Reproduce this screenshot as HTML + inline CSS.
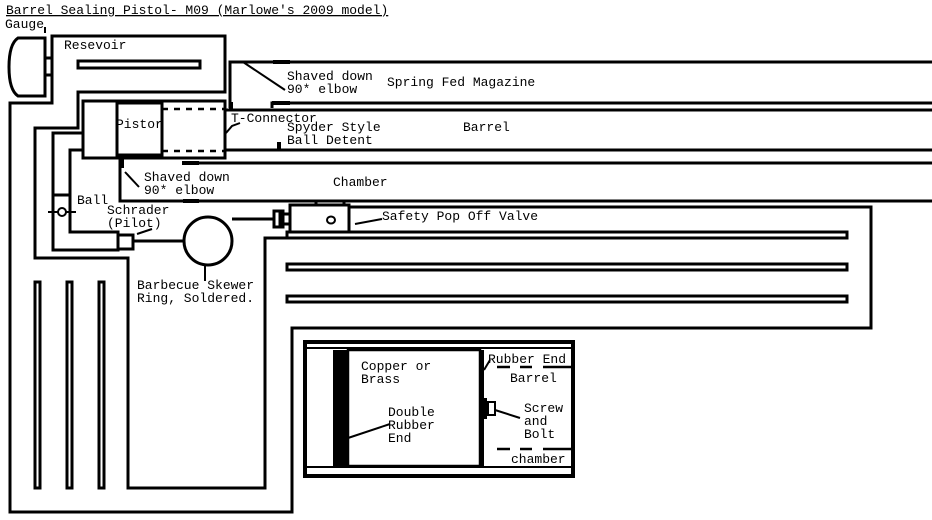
<!DOCTYPE html>
<html><head><meta charset="utf-8"><style>
html,body{margin:0;padding:0;background:#fff;}
svg{display:block;}
text{font-family:"Liberation Mono",monospace;font-size:13px;fill:#000;}
</style></head><body>
<svg width="932" height="520" viewBox="0 0 932 520" xmlns="http://www.w3.org/2000/svg">
<g fill="none" stroke="#000" stroke-width="3">
<path d="M18,38 L45,38 L45,96 L18,96 Q9,90 9,67 Q9,44 18,38 Z"/>
<rect x="45" y="58" width="7" height="17"/>
<path d="M45,27 L45,33" stroke-width="2"/>
<polyline points="350,207 871,207 871,328 292,328 292,512 10,512 10,103 52,103 52,36 225,36 225,92 78,92 78,128 35,128 35,258 128,258 128,488 265,488 265,238 287,238"/>
<rect x="78" y="61" width="122" height="7"/>
<rect x="35" y="282" width="5" height="206"/>
<rect x="67" y="282" width="5" height="206"/>
<rect x="99" y="282" width="5" height="206"/>
<rect x="287" y="232" width="560" height="6"/>
<rect x="287" y="264" width="560" height="6"/>
<rect x="287" y="296" width="560" height="6"/>
<path d="M230,108 L230,62 L932,62"/>
<path d="M272,108 L272,103 L932,103"/>
<path d="M225,110 L932,110 M225,150 L932,150"/>
<rect x="83" y="101" width="142" height="57"/>
<rect x="117" y="103" width="45" height="52"/>
<path d="M162,109 L225,109 M162,151 L225,151" stroke-dasharray="6,6" stroke-width="2.5"/>
<path d="M182,163 L932,163 M120,158 L120,201 L932,201"/>
<path d="M83,133 L53,133 L53,250 L118,250 L118,232 L70,232 L70,150 L83,150"/>
<path d="M53,195 L70,195"/>
<rect x="118" y="235" width="15" height="14"/>
<rect x="290" y="205" width="59" height="27"/>
<path d="M316,201 L316,205 M344,201 L344,205"/>
<rect x="274" y="211" width="9" height="16"/>
<rect x="280" y="214" width="10" height="10"/>
<path d="M232,219 L274,219 M133,241 L184,241"/>
<circle cx="208" cy="241" r="24"/>
</g>
<g fill="none" stroke="#000" stroke-width="2">
<circle cx="62" cy="212" r="4"/>
<path d="M48,212 L58,212 M66,212 L76,212"/>
<ellipse cx="331" cy="220" rx="4" ry="3.5"/>
<path d="M243,62 L285,90"/>
<path d="M226,133 L232,126 L240,123"/>
<path d="M125,172 L139,187"/>
<path d="M137,234 L152,229"/>
<path d="M355,224 L382,219"/>
<path d="M205,265 L205,281"/>
</g>
<g fill="#000">
<rect x="273" y="60" width="17" height="4"/>
<rect x="272" y="101" width="18" height="4"/>
<rect x="229" y="102" width="4" height="8"/>
<rect x="277" y="142" width="4" height="8"/>
<rect x="182" y="161" width="17" height="4"/>
<rect x="120" y="158" width="4" height="10"/>
<rect x="183" y="199" width="16" height="4"/>
</g>
<g fill="none" stroke="#000">
<rect x="305" y="342" width="268" height="134" stroke-width="4"/>
<path d="M306,348 L571,348 M306,467 L571,467" stroke-width="2"/>
<rect x="348" y="350" width="132" height="116" stroke-width="2.5"/>
<path d="M497,367 L510,367 M520,367 L532,367 M543,367 L572,367 M497,449 L510,449 M520,449 L532,449 M543,449 L572,449" stroke-width="2.5"/>
<rect x="488" y="402" width="7" height="13" stroke-width="2"/>
<path d="M495,410 L520,418 M348,438 L390,424 M484,370 L490,360" stroke-width="2"/>
</g>
<g fill="#000">
<rect x="333" y="350" width="14" height="116"/>
<rect x="479" y="350" width="5" height="117"/>
<rect x="484" y="398" width="3" height="21"/>
</g>
<text x="6" y="14" text-decoration="underline">Barrel Sealing Pistol- M09 (Marlowe's 2009 model)</text>
<text x="5" y="28">Gauge</text>
<text x="64" y="49">Resevoir</text>
<text x="287" y="80">Shaved down</text>
<text x="287" y="93">90* elbow</text>
<text x="387" y="86">Spring Fed Magazine</text>
<text x="116" y="128">Pistor</text>
<text x="231" y="122">T-Connector</text>
<text x="287" y="131">Spyder Style</text>
<text x="287" y="144">Ball Detent</text>
<text x="463" y="131">Barrel</text>
<text x="144" y="181">Shaved down</text>
<text x="144" y="194">90* elbow</text>
<text x="333" y="186">Chamber</text>
<text x="77" y="204">Ball</text>
<text x="107" y="214">Schrader</text>
<text x="107" y="227">(Pilot)</text>
<text x="382" y="220">Safety Pop Off Valve</text>
<text x="137" y="289">Barbecue Skewer</text>
<text x="137" y="302">Ring, Soldered.</text>
<text x="361" y="370">Copper or</text>
<text x="361" y="383">Brass</text>
<text x="388" y="416">Double</text>
<text x="388" y="429">Rubber</text>
<text x="388" y="442">End</text>
<text x="488" y="363">Rubber End</text>
<text x="510" y="382">Barrel</text>
<text x="524" y="412">Screw</text>
<text x="524" y="425">and</text>
<text x="524" y="438">Bolt</text>
<text x="511" y="463">chamber</text>
</svg>
</body></html>
